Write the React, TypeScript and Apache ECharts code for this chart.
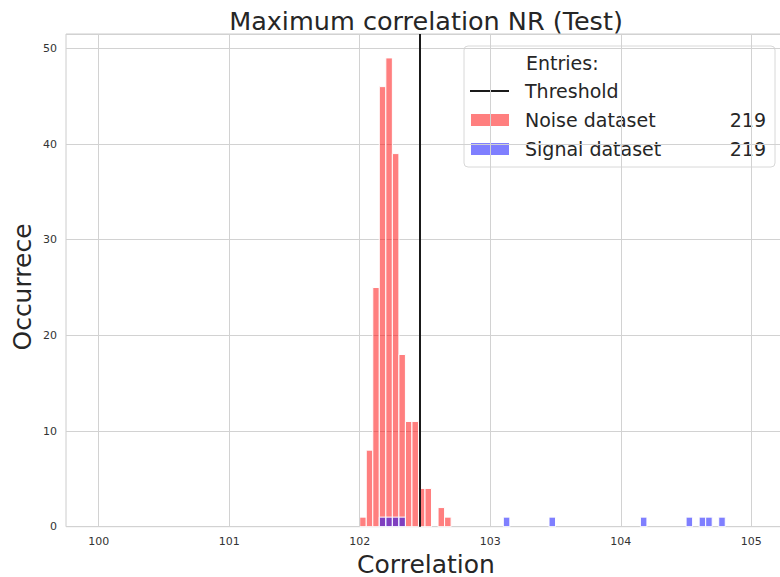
import React, { useEffect, useRef } from "react";
import * as echarts from "echarts";

// ---- data ----
const binWidth = 0.05;
const noiseBinStarts = [102.0, 102.05, 102.1, 102.15, 102.2, 102.25, 102.3, 102.35, 102.4, 102.45, 102.5, 102.55, 102.6, 102.65];
const noiseCounts = [1, 8, 25, 46, 49, 39, 18, 11, 11, 4, 4, 0, 2, 1];
const signalBinStarts = [102.15, 102.2, 102.25, 102.3, 103.1, 103.45, 104.15, 104.5, 104.6, 104.65, 104.75];
const signalCounts = [1, 1, 1, 1, 1, 1, 1, 1, 1, 1, 1];
const threshold = 102.46;
const xTicks = [100, 101, 102, 103, 104, 105];
const noiseEntries = 219;
const signalEntries = 219;

const FONT = "DejaVu Sans";
const TEXT = "#262626";

export default function App() {
  const ref = useRef<HTMLDivElement>(null);
  useEffect(() => {
    if (!ref.current) return;
    const chart = echarts.init(ref.current, undefined, { renderer: "svg" });

    const noiseData = noiseBinStarts
      .map((s, i) => [s, s + binWidth, noiseCounts[i]])
      .filter((d) => d[2] > 0);
    const signalData = signalBinStarts.map((s, i) => [s, s + binWidth, signalCounts[i]]);

    const makeRender = (fill: string) => (params: any, api: any) => {
      const x0 = api.value(0);
      const x1 = api.value(1);
      const y = api.value(2);
      const p0 = api.coord([x0, y]);
      const p1 = api.coord([x1, 0]);
      return {
        type: "rect",
        shape: { x: p0[0], y: p0[1], width: p1[0] - p0[0], height: p1[1] - p0[1] },
        style: { fill, stroke: "#ffffff", lineWidth: 1 },
      };
    };

    const lx = 464, ly = 46;
    const lf = `19px "${FONT}"`;
    chart.setOption({
      animation: false,
      grid: {
        left: 66, top: 34, width: 718, height: 492.7,
        show: true, borderColor: "#cccccc", borderWidth: 1,
        containLabel: false, outerBoundsMode: "none",
      },
      xAxis: {
        type: "value",
        min: 99.75,
        max: 105.25,
        axisLine: { show: false },
        axisTick: { show: false },
        splitLine: { show: false },
        axisLabel: { customValues: xTicks, color: "#333", fontFamily: FONT, fontSize: 11, margin: 9 },
      },
      yAxis: {
        type: "value",
        min: 0,
        max: 51.5,
        interval: 10,
        axisLine: { show: false },
        axisTick: { show: false },
        splitLine: { show: true, lineStyle: { color: "#d2d2d2", width: 1 } },
        axisLabel: { showMaxLabel: false, color: "#333", fontFamily: FONT, fontSize: 11, margin: 9 },
      },
      series: [
        {
          type: "line",
          data: [],
          silent: true,
          markLine: {
            symbol: "none",
            silent: true,
            label: { show: false },
            lineStyle: { color: "#d2d2d2", width: 1, type: "solid" },
            data: xTicks.map((v) => ({ xAxis: v })),
          },
        },
        {
          type: "custom",
          name: "Noise dataset",
          renderItem: makeRender("rgba(255,0,0,0.5)"),
          encode: { x: [0, 1], y: 2 },
          data: noiseData,
          z: 3,
        },
        {
          type: "custom",
          name: "Signal dataset",
          renderItem: makeRender("rgba(0,0,255,0.5)"),
          encode: { x: [0, 1], y: 2 },
          data: signalData,
          z: 4,
          markLine: {
            symbol: "none",
            silent: true,
            label: { show: false },
            lineStyle: { color: "#1a1a1a", width: 2, type: "solid" },
            data: [{ xAxis: threshold }],
          },
        },
      ],
      graphic: [
        { type: "text", x: 426, y: 21, style: { text: "Maximum correlation NR (Test)", font: `25.5px "${FONT}"`, fill: TEXT, align: "center", verticalAlign: "middle" } },
        { type: "text", x: 426, y: 564, style: { text: "Correlation", font: `25px "${FONT}"`, fill: TEXT, align: "center", verticalAlign: "middle" } },
        { type: "text", x: 22, y: 287, rotation: Math.PI / 2, style: { text: "Occurrece", font: `25px "${FONT}"`, fill: TEXT, align: "center", verticalAlign: "middle" } },
        {
          type: "group",
          z: 100,
          children: [
            { type: "rect", shape: { x: lx, y: ly, width: 311, height: 121, r: 4 }, style: { fill: "rgba(255,255,255,0.85)", stroke: "#d8d8d8", lineWidth: 1 } },
            { type: "text", x: 526, y: 63, style: { text: "Entries:", font: lf, fill: TEXT, verticalAlign: "middle" } },
            { type: "line", shape: { x1: 470, y1: 91, x2: 509, y2: 91 }, style: { stroke: "#1a1a1a", lineWidth: 2 } },
            { type: "text", x: 525, y: 91, style: { text: "Threshold", font: lf, fill: TEXT, verticalAlign: "middle" } },
            { type: "rect", shape: { x: 471, y: 114, width: 38, height: 12 }, style: { fill: "rgba(255,0,0,0.5)" } },
            { type: "text", x: 525, y: 120, style: { text: "Noise dataset", font: lf, fill: TEXT, verticalAlign: "middle" } },
            { type: "text", x: 766, y: 120, style: { text: String(noiseEntries), font: lf, fill: TEXT, align: "right", verticalAlign: "middle" } },
            { type: "rect", shape: { x: 471, y: 143, width: 38, height: 12 }, style: { fill: "rgba(0,0,255,0.5)" } },
            { type: "text", x: 525, y: 149, style: { text: "Signal dataset", font: lf, fill: TEXT, verticalAlign: "middle" } },
            { type: "text", x: 766, y: 149, style: { text: String(signalEntries), font: lf, fill: TEXT, align: "right", verticalAlign: "middle" } },
          ],
        },
      ],
    });
    return () => chart.dispose();
  }, []);
  return <div ref={ref} style={{ width: 780, height: 577, position: "absolute", left: 0, top: 0 }} />;
}
